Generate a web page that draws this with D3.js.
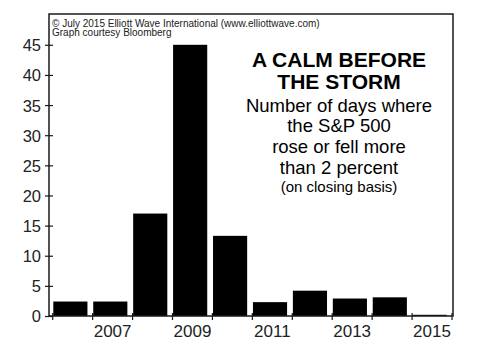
<!DOCTYPE html>
<html>
<head>
<meta charset="utf-8">
<script src="https://cdn.jsdelivr.net/npm/d3@7"></script>
<style>
  html, body { margin: 0; padding: 0; background: #fff; }
  svg { display: block; font-family: "Liberation Sans", Arial, sans-serif; }
</style>
</head>
<body>
<svg id="chart" width="477" height="355"></svg>
<script>
const years = [2006, 2007, 2008, 2009, 2010, 2011, 2012, 2013, 2014, 2015];
const values = [2.4, 2.4, 17, 45, 13.3, 2.3, 4.2, 2.9, 3.1, 0.2];
const yTicks = [0, 5, 10, 15, 20, 25, 30, 35, 40, 45];
const xLabels = [2007, 2009, 2011, 2013, 2015];
const titleLines = ["A CALM BEFORE", "THE STORM"];
const subtitleLines = ["Number of days where", "the S&P 500", "rose or fell more", "than 2 percent"];
const noteLine = "(on closing basis)";
const creditLines = ["\u00A9 July 2015 Elliott Wave International (www.elliottwave.com)", "Graph courtesy Bloomberg"];

const svg = d3.select("#chart");
const frame = { left: 49, top: 14, right: 453, bottom: 316 };

const x = d3.scaleBand().domain(years).range([52.7, 452]).padding(0);
const y = d3.scaleLinear().domain([0, 45]).range([316, 44.8]);

// bars
svg.append("g").selectAll("rect").data(years).join("rect")
  .attr("x", d => x(d) + 0.6)
  .attr("y", (d, i) => y(values[i]))
  .attr("width", x.bandwidth() * 0.855)
  .attr("height", (d, i) => y(0) - y(values[i]))
  .attr("fill", "#000");

// frame
svg.append("rect")
  .attr("x", frame.left).attr("y", frame.top)
  .attr("width", frame.right - frame.left).attr("height", frame.bottom - frame.top)
  .attr("fill", "none").attr("stroke", "#1a1a1a").attr("stroke-width", 1.5);

// y axis
const yAxis = d3.axisLeft(y).tickValues(yTicks).tickSize(4).tickPadding(4);
const yg = svg.append("g").attr("transform", `translate(${frame.left},0)`).call(yAxis);
yg.select(".domain").remove();
yg.selectAll(".tick line").attr("x1", -4).attr("x2", 4).attr("stroke", "#1a1a1a").attr("stroke-width", 1.2);
yg.selectAll(".tick text").attr("font-size", 16.5).attr("fill", "#222")
  .attr("font-family", "'Liberation Sans', Arial, sans-serif").attr("x", -8).attr("dy", "0.36em");

// x axis: ticks at band boundaries
const xAxisG = svg.append("g").attr("transform", `translate(0,${frame.bottom})`);
const boundaries = years.map(d => x(d)).concat([x(years[years.length - 1]) + x.step()]);
xAxisG.selectAll("line.tk").data(boundaries).join("line")
  .attr("class", "tk")
  .attr("x1", d => d).attr("x2", d => d)
  .attr("y1", -3).attr("y2", 4)
  .attr("stroke", "#1a1a1a").attr("stroke-width", 1.2);
xAxisG.selectAll("text").data(xLabels).join("text")
  .attr("x", d => x(d) + x.bandwidth() / 2)
  .attr("y", 21)
  .attr("text-anchor", "middle")
  .attr("font-size", 17).attr("fill", "#222")
  .text(d => d);

// credits
svg.append("g").selectAll("text").data(creditLines).join("text")
  .attr("x", 52).attr("y", (d, i) => 26.5 + i * 9.5)
  .attr("font-size", 10).attr("fill", "#222")
  .text(d => d);

// title block
const cx = 339;
svg.append("g").selectAll("text").data(titleLines).join("text")
  .attr("x", cx).attr("y", (d, i) => 66.7 + i * 22.6)
  .attr("text-anchor", "middle").attr("font-weight", "bold")
  .attr("font-size", 21).attr("fill", "#000")
  .text(d => d);
svg.append("g").selectAll("text").data(subtitleLines).join("text")
  .attr("x", cx).attr("y", (d, i) => 111.7 + i * 20.6)
  .attr("text-anchor", "middle")
  .attr("font-size", 18.5).attr("fill", "#000")
  .text(d => d);
svg.append("text")
  .attr("x", cx).attr("y", 191.7)
  .attr("text-anchor", "middle")
  .attr("font-size", 15).attr("fill", "#000")
  .text(noteLine);
</script>
</body>
</html>
